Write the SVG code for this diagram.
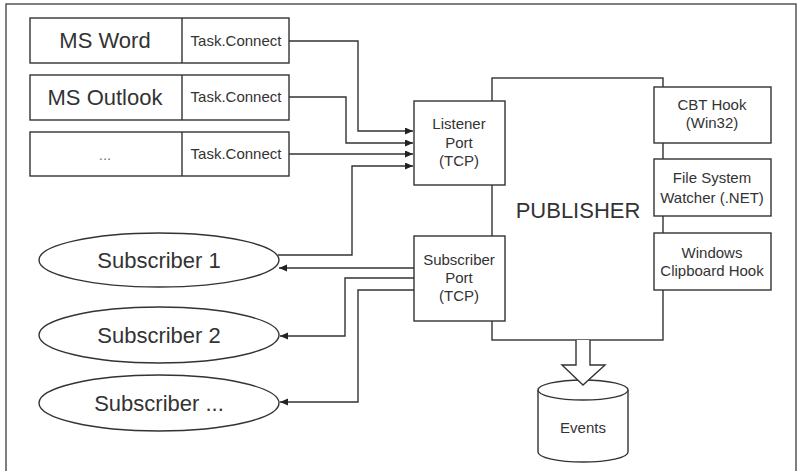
<svg xmlns="http://www.w3.org/2000/svg" width="800" height="471" viewBox="0 0 800 471">
<defs>
<marker id="ah" markerUnits="userSpaceOnUse" markerWidth="9" markerHeight="8" refX="8" refY="3.5" orient="auto"><path d="M0,0 L8,3.5 L0,7 z" fill="#222"/></marker>
<style>
.b{fill:#fff;stroke:#333;stroke-width:1.4}
.t{font-family:"Liberation Sans",Arial,sans-serif;fill:#333;text-anchor:middle}
.l{font-size:22px}
.s{font-size:15px}
.c{fill:none;stroke:#333;stroke-width:1.4}
</style>
</defs>
<rect x="6" y="4" width="790" height="490" fill="#fff" stroke="#555" stroke-width="1.5"/>

<g id="publisher">
<rect class="b" x="492" y="78" width="171" height="262"/>
<text class="t l" x="578" y="218">PUBLISHER</text>
</g>

<g id="ms-word">
<rect class="b" x="30" y="18" width="259" height="45"/>
<line class="c" x1="182" y1="18" x2="182" y2="63"/>
<text class="t l" x="105" y="48">MS Word</text>
<text class="t s" x="236" y="46">Task.Connect</text>
</g>
<g id="ms-outlook">
<rect class="b" x="30" y="75" width="259" height="45"/>
<line class="c" x1="182" y1="75" x2="182" y2="120"/>
<text class="t l" x="105" y="105">MS Outlook</text>
<text class="t s" x="236" y="102">Task.Connect</text>
</g>
<g id="other-app">
<rect class="b" x="30" y="132" width="259" height="44"/>
<line class="c" x1="182" y1="132" x2="182" y2="176"/>
<text class="t s" x="105" y="160" fill="#777" style="fill:#777">...</text>
<text class="t s" x="236" y="159">Task.Connect</text>
</g>

<g id="listener-port">
<rect class="b" x="414" y="101" width="91" height="84"/>
<text class="t s" x="459" y="129">Listener</text>
<text class="t s" x="459" y="148">Port</text>
<text class="t s" x="459" y="166">(TCP)</text>
</g>
<g id="subscriber-port">
<rect class="b" x="414" y="236" width="91" height="85"/>
<text class="t s" x="459" y="265">Subscriber</text>
<text class="t s" x="459" y="283">Port</text>
<text class="t s" x="459" y="301">(TCP)</text>
</g>

<g id="cbt-hook">
<rect class="b" x="654" y="87" width="117" height="56"/>
<text class="t s" x="712" y="110">CBT Hook</text>
<text class="t s" x="712" y="128">(Win32)</text>
</g>
<g id="fs-watcher">
<rect class="b" x="654" y="159" width="117" height="57"/>
<text class="t s" x="712" y="183">File System</text>
<text class="t s" x="712" y="203">Watcher (.NET)</text>
</g>
<g id="clipboard-hook">
<rect class="b" x="654" y="233" width="117" height="57"/>
<text class="t s" x="712" y="258">Windows</text>
<text class="t s" x="712" y="276">Clipboard Hook</text>
</g>

<g id="subscriber-1">
<ellipse class="b" cx="159" cy="260" rx="120" ry="27"/>
<text class="t l" x="159" y="268">Subscriber 1</text>
</g>
<g id="subscriber-2">
<ellipse class="b" cx="159" cy="335" rx="120" ry="28"/>
<text class="t l" x="159" y="343">Subscriber 2</text>
</g>
<g id="subscriber-n">
<ellipse class="b" cx="159" cy="403" rx="120" ry="28"/>
<text class="t l" x="159" y="411">Subscriber ...</text>
</g>

<g id="events">
<path class="b" d="M538,390 L538,452 A45,10 0 0 0 628,452 L628,390"/>
<ellipse class="b" cx="583" cy="390" rx="45" ry="10"/>
<text class="t s" x="583" y="433">Events</text>
</g>

<g id="connectors">
<polyline class="c" points="289,41 358,41 358,131 413,131" marker-end="url(#ah)"/>
<polyline class="c" points="289,97 346,97 346,143 413,143" marker-end="url(#ah)"/>
<polyline class="c" points="289,154 413,154" marker-end="url(#ah)"/>
<polyline class="c" points="278,255 352,255 352,166 413,166" marker-end="url(#ah)"/>
<polyline class="c" points="414,268 279,268" marker-end="url(#ah)"/>
<polyline class="c" points="414,278 345,278 345,336 280,336" marker-end="url(#ah)"/>
<polyline class="c" points="414,290 358,290 358,402 280,402" marker-end="url(#ah)"/>
<path class="b" d="M576,340 L576,365 L562,365 L583,385 L605,365 L590,365 L590,340"/>
</g>
</svg>
